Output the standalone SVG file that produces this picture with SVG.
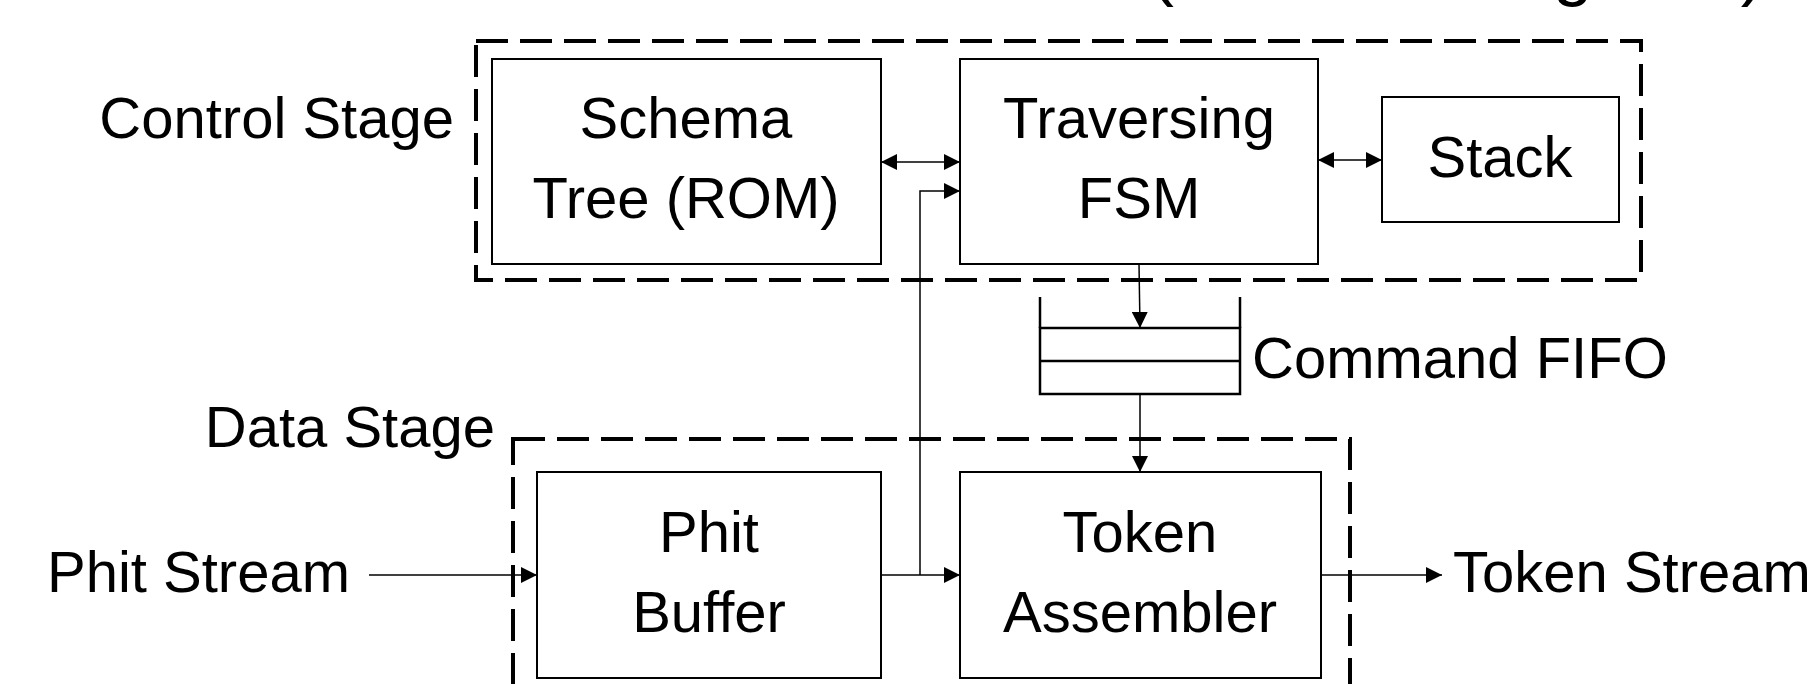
<svg xmlns="http://www.w3.org/2000/svg" width="1812" height="684" viewBox="0 0 1812 684">
  <style>
    text { font-family: "Liberation Sans", Arial, sans-serif; font-size: 58px; fill: #000; }
    .mid { text-anchor: middle; }
    .end { text-anchor: end; }
    .title { font-size: 72px; }
    .block { fill: #fff; stroke: #000; stroke-width: 2; }
    .stage { fill: none; stroke: #000; stroke-width: 4; stroke-dasharray: 32 12; }
    .wire { fill: none; stroke: #000; stroke-width: 1.5; }
    .fifo { fill: #fff; stroke: #000; stroke-width: 2.5; }
  </style>
  <defs>
    <marker id="head" markerUnits="userSpaceOnUse" markerWidth="16" markerHeight="16" viewBox="0 0 15 15" refX="15" refY="7.5" orient="auto-start-reverse">
      <path d="M0,0 L15,7.5 L0,15 Z" fill="#000"/>
    </marker>
  </defs>

  <rect width="1812" height="684" fill="#fff"/>

  <!-- title, running above the top edge -->
  <text id="title" class="title" x="1150" y="-8">(Tree Walking Unit)</text>

  <!-- pipeline stages -->
  <g id="control-stage">
    <rect class="stage" x="476" y="41" width="1165" height="239"/>
    <text class="end" x="454" y="138">Control Stage</text>
  </g>
  <g id="data-stage">
    <rect class="stage" x="513" y="439" width="837" height="320"/>
    <text class="end" x="495" y="447">Data Stage</text>
  </g>

  <!-- blocks -->
  <g id="schema-tree">
    <rect class="block" x="492" y="59" width="389" height="205"/>
    <text class="mid" x="686" y="138">Schema</text>
    <text class="mid" x="686" y="218">Tree (ROM)</text>
  </g>
  <g id="traversing-fsm">
    <rect class="block" x="960" y="59" width="358" height="205"/>
    <text class="mid" x="1139" y="138">Traversing</text>
    <text class="mid" x="1139" y="218">FSM</text>
  </g>
  <g id="stack">
    <rect class="block" x="1382" y="97" width="237" height="125"/>
    <text class="mid" x="1500" y="177">Stack</text>
  </g>
  <g id="command-fifo">
    <rect class="fifo" x="1040" y="328" width="200" height="66"/>
    <line class="fifo" x1="1040" y1="361" x2="1240" y2="361"/>
    <line class="fifo" x1="1040" y1="297" x2="1040" y2="328"/>
    <line class="fifo" x1="1240" y1="297" x2="1240" y2="328"/>
    <text x="1252" y="378">Command FIFO</text>
  </g>
  <g id="phit-buffer">
    <rect class="block" x="537" y="472" width="344" height="206"/>
    <text class="mid" x="709" y="552">Phit</text>
    <text class="mid" x="709" y="632">Buffer</text>
  </g>
  <g id="token-assembler">
    <rect class="block" x="960" y="472" width="361" height="206"/>
    <text class="mid" x="1140" y="552">Token</text>
    <text class="mid" x="1140" y="632">Assembler</text>
  </g>
  <g id="io-labels">
    <text class="end" x="350" y="592">Phit Stream</text>
    <text x="1453" y="592">Token Stream</text>
  </g>

  <!-- connectors -->
  <g id="connectors">
    <line class="wire" x1="881" y1="162" x2="960" y2="162" marker-start="url(#head)" marker-end="url(#head)"/>
    <line class="wire" x1="1318" y1="160" x2="1382" y2="160" marker-start="url(#head)" marker-end="url(#head)"/>
    <line class="wire" x1="881" y1="575" x2="960" y2="575" marker-end="url(#head)"/>
    <polyline class="wire" points="920,575 920,191 960,191" marker-end="url(#head)"/>
    <line class="wire" x1="1139" y1="264" x2="1140" y2="328" marker-end="url(#head)"/>
    <line class="wire" x1="1140" y1="394" x2="1140" y2="472" marker-end="url(#head)"/>
    <line class="wire" x1="369" y1="575" x2="537" y2="575" marker-end="url(#head)"/>
    <line class="wire" x1="1321" y1="575" x2="1442" y2="575" marker-end="url(#head)"/>
  </g>
</svg>
